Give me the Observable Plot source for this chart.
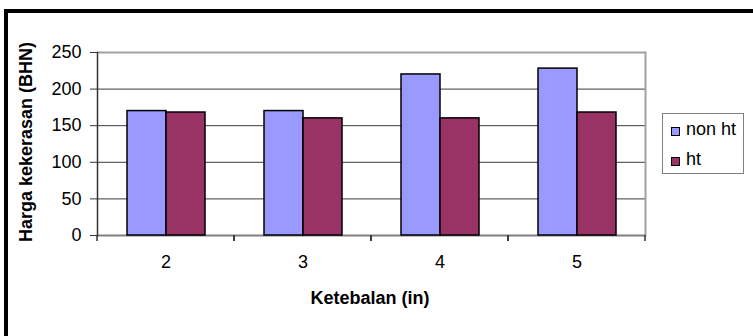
<!DOCTYPE html>
<html>
<head>
<meta charset="utf-8">
<script src="https://cdn.jsdelivr.net/npm/d3@7"></script>
<script src="https://cdn.jsdelivr.net/npm/@observablehq/plot@0.6"></script>
<style>
  body { margin: 0; background: #fff; }
  #wrap { position: relative; width: 753px; height: 336px; overflow: hidden;
          font-family: "Liberation Sans", Arial, sans-serif; color: #000; }
  #wrap svg { position: absolute; left: 0; top: 0; }
  .border { position: absolute; left: 4px; top: 9px; width: 900px; height: 500px;
            border-top: 4px solid #000; border-left: 4px solid #000; }
  .ytitle { position: absolute; left: 26px; top: 142px; white-space: nowrap;
            font-weight: bold; font-size: 18px;
            transform: translate(-50%, -50%) rotate(-90deg); }
  .xtitle { position: absolute; left: 370px; top: 288px; white-space: nowrap;
            font-weight: bold; font-size: 18px; transform: translateX(-50%); }
  .legend { position: absolute; left: 662px; top: 113px; width: 80px; height: 59px;
            border: 1px solid #808080; background: #fff; font-size: 18px; }
  .legend .sw { position: absolute; left: 8px; width: 7px; height: 7px; border: 1px solid #000; }
  .legend .lb { position: absolute; left: 23px; line-height: 18px; white-space: nowrap; }
</style>
</head>
<body>
<div id="wrap"></div>
<script>
// Thickness categories (in) and hardness (BHN) for each treatment
const thickness = ["2", "3", "4", "5"];
const seriesNames = ["non ht", "ht"];
const nonHt = [170, 170, 220, 228];
const ht = [168, 160, 160, 168];
const seriesColors = ["#9999ff", "#993366"];
const yTicks = [0, 50, 100, 150, 200, 250];
const yTitle = "Harga kekerasan (BHN)";
const xTitle = "Ketebalan (in)";

const rows = thickness.flatMap((t, i) => [
  {thickness: t, series: seriesNames[0], value: nonHt[i]},
  {thickness: t, series: seriesNames[1], value: ht[i]}
]);

// short ticks below the category axis at the edges of each category band
function boundaryTicks(index, scales, values, dims) {
  const r = scales.x && scales.x.range ? scales.x.range() : [dims.marginLeft, dims.width - dims.marginRight];
  const y0 = dims.height - dims.marginBottom;
  const g = d3.create("svg:g").attr("stroke", "#333").attr("stroke-width", 1.5);
  for (const x of r) {
    g.append("line").attr("x1", x).attr("x2", x).attr("y1", y0).attr("y2", y0 + 6);
  }
  return g.node();
}

const chart = Plot.plot({
  width: 753,
  height: 336,
  marginLeft: 95,
  marginRight: 107,
  marginTop: 52,
  marginBottom: 101,
  style: {
    fontFamily: '"Liberation Sans", Arial, sans-serif',
    fontSize: "18px",
    color: "#000",
    background: "transparent"
  },
  fx: {domain: thickness, padding: 0, label: null},
  x: {domain: seriesNames, paddingInner: 0, paddingOuter: 0.75, axis: null},
  y: {domain: [0, 250], label: null},
  color: {domain: seriesNames, range: seriesColors},
  marks: [
    Plot.gridY(yTicks.slice(1, -1), {stroke: "#3a3a3a", strokeOpacity: 1, strokeWidth: 1}),
    Plot.ruleY([250], {stroke: "#a0a0a0", strokeWidth: 2}),
    Plot.frame({anchor: "right", stroke: "#a0a0a0", strokeWidth: 2, facetAnchor: "right"}),
    Plot.ruleY([0], {stroke: "#808080", strokeWidth: 2}),
    Plot.barY(rows, {fx: "thickness", x: "series", y: "value", fill: "series", stroke: "#000", strokeWidth: 1.5}),
    boundaryTicks,
    Plot.frame({anchor: "left", stroke: "#333", strokeWidth: 1.5, facetAnchor: "left"}),
    Plot.axisY(yTicks, {tickSize: 7, tickPadding: 9, stroke: "#333", label: null}),
    Plot.axisFx({anchor: "bottom", tickSize: 0, tickPadding: 20, label: null})
  ]
});

const wrap = document.getElementById("wrap");
wrap.appendChild(chart);

const border = document.createElement("div");
border.className = "border";
wrap.appendChild(border);

const yt = document.createElement("div");
yt.className = "ytitle";
yt.textContent = yTitle;
wrap.appendChild(yt);

const xt = document.createElement("div");
xt.className = "xtitle";
xt.textContent = xTitle;
wrap.appendChild(xt);

// legend built from the series names and colours
const legend = document.createElement("div");
legend.className = "legend";
seriesNames.forEach((name, i) => {
  const sw = document.createElement("div");
  sw.className = "sw";
  sw.style.top = (13 + 30 * i) + "px";
  sw.style.background = seriesColors[i];
  legend.appendChild(sw);
  const lb = document.createElement("div");
  lb.className = "lb";
  lb.style.top = (6 + 30 * i) + "px";
  lb.textContent = name;
  legend.appendChild(lb);
});
wrap.appendChild(legend);
</script>
</body>
</html>
